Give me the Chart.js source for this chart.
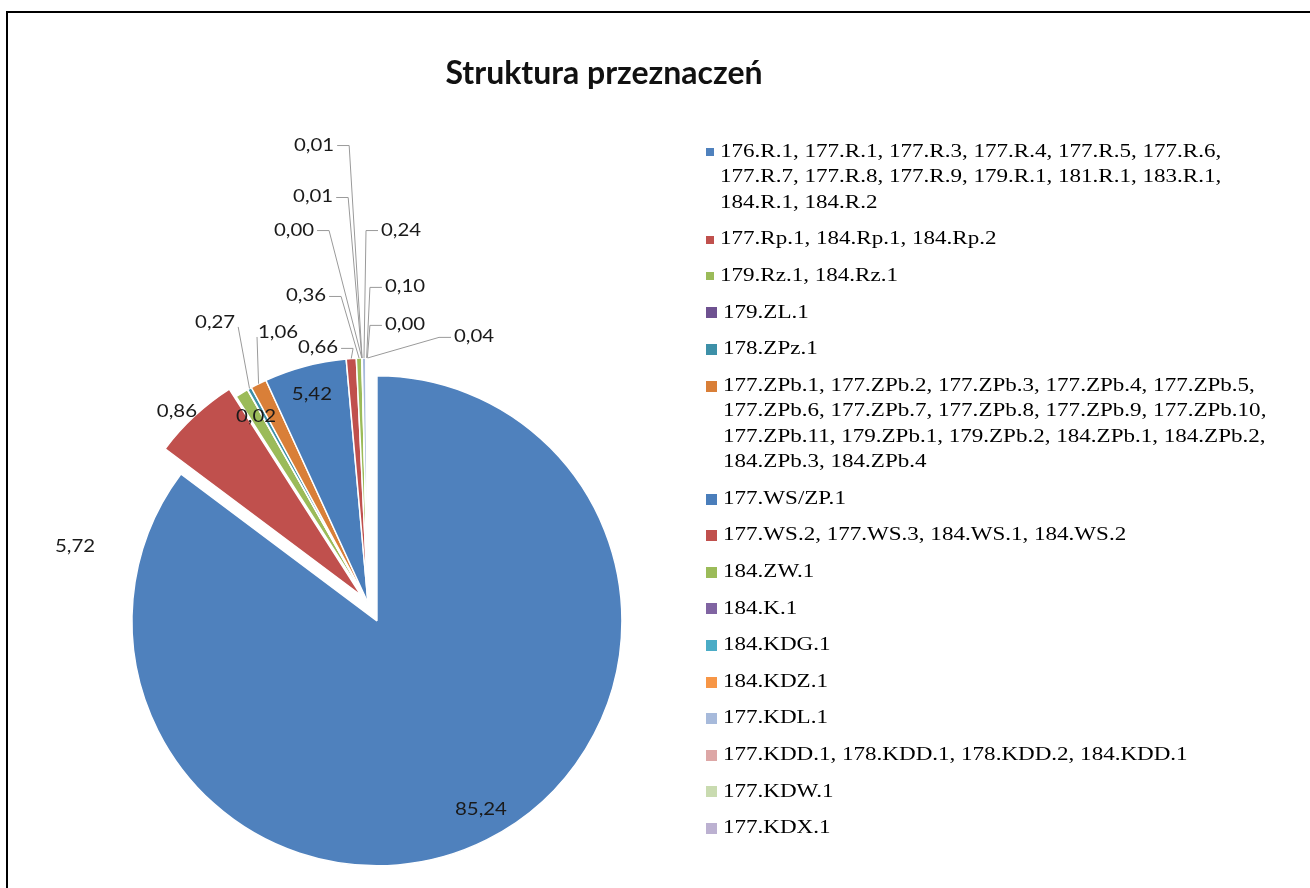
<!DOCTYPE html>
<html>
<head>
<meta charset="utf-8">
<script src="https://cdn.jsdelivr.net/npm/chart.js@4.4.1/dist/chart.umd.min.js"></script>
<style>
  html, body { margin: 0; padding: 0; background: #fff; }
  canvas { display: block; }
</style>
</head>
<body>
<canvas id="c" width="1310" height="888"></canvas>
<script>
// ---------------- data ----------------
const categories = [
  '176.R.1, 177.R.1, 177.R.3, 177.R.4, 177.R.5, 177.R.6, 177.R.7, 177.R.8, 177.R.9, 179.R.1, 181.R.1, 183.R.1, 184.R.1, 184.R.2',
  '177.Rp.1, 184.Rp.1, 184.Rp.2',
  '179.Rz.1, 184.Rz.1',
  '179.ZL.1',
  '178.ZPz.1',
  '177.ZPb.1, 177.ZPb.2, 177.ZPb.3, 177.ZPb.4, 177.ZPb.5, 177.ZPb.6, 177.ZPb.7, 177.ZPb.8, 177.ZPb.9, 177.ZPb.10, 177.ZPb.11, 179.ZPb.1, 179.ZPb.2, 184.ZPb.1, 184.ZPb.2, 184.ZPb.3, 184.ZPb.4',
  '177.WS/ZP.1',
  '177.WS.2, 177.WS.3, 184.WS.1, 184.WS.2',
  '184.ZW.1',
  '184.K.1',
  '184.KDG.1',
  '184.KDZ.1',
  '177.KDL.1',
  '177.KDD.1, 178.KDD.1, 178.KDD.2, 184.KDD.1',
  '177.KDW.1',
  '177.KDX.1'
];
const shares = [85.24, 5.72, 0.86, 0.02, 0.27, 1.06, 5.42, 0.66, 0.36, 0.00, 0.01, 0.01, 0.24, 0.10, 0.00, 0.04];
const chartTitle = 'Struktura przeznaczeń';

// ---------------- styles ----------------
const sliceColors = ['#4F81BD', '#C0504D', '#9BBB59', '#6E5190', '#3D90A8', '#D97F38',
                     '#4A7EBB', '#C0504D', '#9BBB59', '#8064A2', '#4BACC6', '#F79646',
                     '#A7BADB', '#DDA7A6', '#C9DBB0', '#BCB1D1'];
const explode = [20, 10, 0, 0, 0, 0, 0, 0, 0, 0, 0, 0, 0, 0, 0, 0];
// label centre, relative to the pie centre, in units of the pie radius
const labelSpot = [
  [0.461, 0.845], [-1.196, -0.229], [-0.780, -0.780], [-0.457, -0.759],
  [-0.624, -1.143], [-0.367, -1.102], [-0.229, -0.849], [-0.204, -1.041],
  [-0.253, -1.253], [-0.302, -1.522], [-0.224, -1.657], [-0.220, -1.869],
  [0.135, -1.522], [0.151, -1.290], [0.151, -1.135], [0.433, -1.086]
];
// 0 = no leader line, 1 = straight leader, 2 = leader with elbow
const leaderKind = [0, 0, 0, 0, 1, 1, 0, 2, 2, 2, 2, 2, 2, 2, 2, 2];
const markerSize = [8, 8, 8, 11, 11, 11, 11, 11, 11, 11, 11, 11, 11, 11, 11, 11];

const PIE_RADIUS = 245;
const LABEL_FONT = '17px Lato';
const LABEL_SX = 1.2;
const LEGEND_FONT = '18px "Liberation Serif"';
const LEGEND_SX = 1.28;
const LEGEND_BOX_W = 472;
const LEGEND_TOP = 152;
const LEGEND_LINE_H = 25.5;
const LEGEND_GAP = 36.6;
const LEGEND_WRAP = 565;

const fmt = v => v.toFixed(2).replace('.', ',');

// ---------------- exploded pie (pure translation of slices) ----------------
class ExplodedArc extends Chart.ArcElement {
  static id = 'explodedArc';
  draw(ctx) {
    const opts = this.options;
    const d = opts.offset || 0;
    const mid = (this.startAngle + this.endAngle) / 2;
    ctx.save();
    ctx.translate(Math.cos(mid) * d, Math.sin(mid) * d);
    this.options = Object.assign({}, opts, { offset: 0 });
    super.draw(ctx);
    this.options = opts;
    ctx.restore();
  }
}
class ExplodedPie extends Chart.PieController {
  static id = 'explodedPie';
  static defaults = { dataElementType: 'explodedArc' };
}
Chart.register(ExplodedArc, ExplodedPie);

function wrapWords(ctx, text, maxW) {
  const words = text.split(' ');
  const lines = [];
  let line = '';
  for (const w of words) {
    const test = line ? line + ' ' + w : w;
    if (line && ctx.measureText(test).width > maxW) { lines.push(line); line = w; }
    else line = test;
  }
  if (line) lines.push(line);
  return lines;
}

const sideLegend = {
  position: 'right',
  weight: 0,
  fullSize: false,
  options: {},
  isHorizontal() { return false; },
  update(maxWidth, maxHeight) { this.width = LEGEND_BOX_W; this.height = maxHeight; },
  getPadding() { return { left: 0, top: 0, right: 0, bottom: 0 }; },
  draw() {
    const chart = this.chart;
    const ctx = chart.ctx;
    const ds = chart.data.datasets[0];
    ctx.save();
    ctx.font = LEGEND_FONT;
    ctx.textBaseline = 'middle';
    ctx.textAlign = 'left';
    let y = LEGEND_TOP;
    const mx = this.left - 30;
    chart.data.labels.forEach((label, i) => {
      const s = markerSize[i];
      ctx.fillStyle = ds.backgroundColor[i];
      ctx.fillRect(mx, Math.round(y - s / 2), s, s);
      const tx = mx + s + 6;
      const lines = wrapWords(ctx, label, LEGEND_WRAP / LEGEND_SX);
      ctx.fillStyle = '#000';
      lines.forEach((ln, k) => {
        ctx.save();
        ctx.translate(tx, y + k * LEGEND_LINE_H);
        ctx.scale(LEGEND_SX, 1);
        ctx.fillText(ln, 0, 0);
        ctx.restore();
      });
      y += (lines.length - 1) * LEGEND_LINE_H + LEGEND_GAP;
    });
    ctx.restore();
  }
};

const annotate = {
  id: 'annotate',
  beforeInit(chart) {
    sideLegend.chart = chart;
    Chart.layouts.addBox(chart, sideLegend);
  },
  beforeDraw(chart) {
    const ctx = chart.ctx;
    ctx.save();
    ctx.fillStyle = '#000';
    ctx.fillRect(6, 11, chart.width - 6, 2);
    ctx.fillRect(6, 11, 2, chart.height - 11);
    ctx.restore();
  },
  afterDatasetsDraw(chart) {
    const ctx = chart.ctx;
    const meta = chart.getDatasetMeta(0);
    const values = chart.data.datasets[0].data;
    ctx.save();
    ctx.font = LABEL_FONT;
    ctx.textBaseline = 'middle';
    ctx.textAlign = 'center';
    meta.data.forEach((arc, i) => {
      const p = arc.getProps(['x', 'y', 'startAngle', 'endAngle', 'outerRadius'], true);
      const r = p.outerRadius;
      const mid = (p.startAngle + p.endAngle) / 2;
      const o = explode[i];
      const ax = p.x + Math.cos(mid) * (r + o);
      const ay = p.y + Math.sin(mid) * (r + o);
      const lx = p.x + labelSpot[i][0] * r;
      const ly = p.y + labelSpot[i][1] * r;
      const text = fmt(values[i]);
      const w = ctx.measureText(text).width * LABEL_SX;
      const left = lx - w / 2, right = lx + w / 2;
      if (leaderKind[i]) {
        ctx.beginPath();
        ctx.strokeStyle = '#9a9a9a';
        ctx.lineWidth = 1;
        if (leaderKind[i] === 1) {
          const sx = ax > right ? right + 3 : left - 1;
          ctx.moveTo(sx, ly + 4);
          ctx.lineTo(ax, ay);
        } else {
          const onLeft = ax > right;
          const sx = onLeft ? right + 3 : left - 3;
          const ex = onLeft ? sx + 12 : sx - 12;
          ctx.moveTo(sx, ly + 0.5);
          ctx.lineTo(ex, ly + 0.5);
          ctx.lineTo(ax, ay);
        }
        ctx.stroke();
      }
      ctx.save();
      ctx.translate(lx, ly);
      ctx.scale(LABEL_SX, 1);
      ctx.fillStyle = '#1a1a1a';
      ctx.fillText(text, 0, 0);
      ctx.restore();
    });
    ctx.restore();
  }
};

new Chart(document.getElementById('c'), {
  type: 'explodedPie',
  data: {
    labels: categories,
    datasets: [{
      data: shares,
      backgroundColor: sliceColors,
      borderColor: '#ffffff',
      borderWidth: 1.5,
      offset: explode,
      hoverOffset: 0,
      radius: PIE_RADIUS
    }]
  },
  options: {
    responsive: false,
    animation: false,
    layout: { padding: { left: 0, right: 102, top: 0, bottom: 0 } },
    plugins: {
      legend: { display: false },
      tooltip: { enabled: false },
      title: {
        display: true,
        text: chartTitle,
        color: '#111',
        font: { family: 'Lato', size: 32, weight: 'bold' },
        padding: { top: 54.5, bottom: 225 }
      }
    }
  },
  plugins: [annotate]
});
</script>
</body>
</html>
